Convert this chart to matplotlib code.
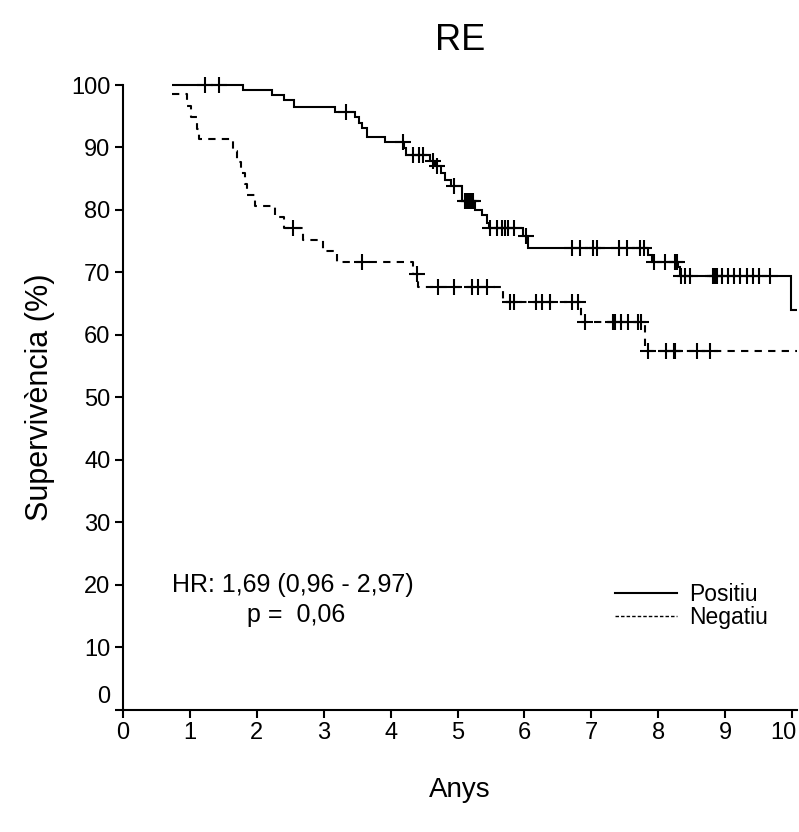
import numpy as np
import matplotlib
matplotlib.use("Agg")
import matplotlib.pyplot as plt
from matplotlib import font_manager

# ---------------- data ----------------
title = "RE"
xlabel = "Anys"
ylabel = "Supervivència (%)"
series_labels = ["Positiu", "Negatiu"]
hr_text = "HR: 1,69 (0,96 - 2,97)"
p_text = "p =  0,06"

pos_times = [0.73, 1.80, 2.22, 2.40, 2.55, 3.17, 3.47, 3.53, 3.57, 3.64, 3.92, 4.20, 4.23,
             4.59, 4.66, 4.76, 4.82, 4.90, 5.06, 5.26, 5.36, 5.44, 5.47, 5.98, 6.06,
             7.85, 7.90, 8.30, 8.33, 9.99]
pos_surv = [100.0, 99.2, 98.4, 97.6, 96.4, 95.7, 94.8, 93.9, 93.1, 91.6, 90.8, 89.9, 88.8,
            87.8, 87.0, 85.9, 84.8, 83.8, 81.5, 80.0, 79.2, 77.9, 77.1, 75.8, 73.9,
            72.8, 71.7, 70.9, 69.5, 64.0]
pos_end = 10.08
pos_censor = [1.23, 1.44, 3.34, 4.19, 4.34, 4.42, 4.49, 4.64, 4.69, 4.94, 5.11, 5.14, 5.17,
              5.20, 5.23, 5.49, 5.59, 5.66, 5.71, 5.76, 5.84, 6.03, 6.71, 6.83, 7.02, 7.08,
              7.41, 7.54, 7.73, 7.79, 7.93, 8.10, 8.25, 8.28, 8.34, 8.40, 8.48, 8.82, 8.85,
              8.88, 8.96, 9.05, 9.13, 9.22, 9.32, 9.42, 9.50, 9.67]

neg_times = [0.73, 0.95, 1.02, 1.10, 1.14, 1.64, 1.70, 1.77, 1.82, 1.86, 1.97, 2.27, 2.40,
             2.69, 2.99, 3.20, 4.34, 4.41, 5.68, 6.84, 7.80]
neg_surv = [98.6, 96.7, 94.8, 93.0, 91.3, 89.5, 87.7, 85.9, 84.1, 82.4, 80.7, 78.9, 77.1,
            75.2, 73.4, 71.6, 69.8, 67.6, 65.3, 62.1, 57.4]
neg_end = 10.08
neg_censor = [2.54, 3.57, 4.39, 4.71, 4.94, 5.21, 5.31, 5.44, 5.78, 5.84, 6.18, 6.26, 6.38,
              6.71, 6.80, 6.90, 7.33, 7.36, 7.45, 7.55, 7.70, 7.74, 7.85, 8.12, 8.23, 8.25,
              8.58, 8.77]

xticks = list(range(0, 11))
yticks = list(range(0, 101, 10))

# ---------------- style ----------------
avail = {f.name for f in font_manager.fontManager.ttflist}
fam = [f for f in ["Liberation Sans Narrow", "Liberation Sans", "DejaVu Sans"] if f in avail]
plt.rcParams["font.family"] = fam

fig = plt.figure(figsize=(7.99, 8.32), dpi=100)
W, H = 799, 832
left, right, top, bottom = 123, 797.4, 85, 709.7
ax = fig.add_axes([left / W, 1 - bottom / H, (right - left) / W, (bottom - top) / H])


def draw_km(times, surv, end, censor, ls):
    t = np.append(times, end)
    s = np.append(surv, surv[-1])
    ax.step(t, s, where="post", color="black", lw=1.5, linestyle=ls, clip_on=False,
            solid_capstyle="butt", solid_joinstyle="miter")
    idx = np.searchsorted(np.asarray(times), np.asarray(censor), side="right") - 1
    cy = np.asarray(surv)[idx]
    ax.plot(censor, cy, linestyle="none", marker="+", markersize=11, mew=1.5,
            color="black", clip_on=False)


draw_km(pos_times, pos_surv, pos_end, pos_censor, "-")
draw_km(neg_times, neg_surv, neg_end, neg_censor, (0, (3.5, 3)))

# legend handles
h1, = ax.plot([], [], color="black", lw=1.5, ls="-")
h2, = ax.plot([], [], color="black", lw=1.0, ls=(0, (2.5, 1.5)))
leg = ax.legend([h1, h2], series_labels, loc="upper left", bbox_to_anchor=(7.35 / 10.08, 0.203),
                frameon=False, fontsize=16.5, handlelength=2.7, handletextpad=0.55,
                labelspacing=0.0, borderpad=0, borderaxespad=0)

ax.text(0.73, 20.0, hr_text, fontsize=18, va="center", ha="left")
ax.text(1.85, 15.2, p_text, fontsize=18, va="center", ha="left")

ax.set_xlim(0, 10.08)
ax.set_ylim(0, 100)
ax.set_xticks(xticks)
ax.set_xticklabels([str(v) for v in xticks[:-1]] + [""])
ax.set_yticks(yticks)
ax.set_yticklabels([""] + [str(v) for v in yticks[1:]])
ax.tick_params(direction="out", length=6, width=1.5, labelsize=17, pad=3)

# the "0" of the y axis sits slightly above the x axis line
ax.annotate(str(yticks[0]), xy=(0, yticks[0]), xycoords=("axes fraction", "data"),
            xytext=(-9, 9), textcoords="offset points", ha="right", va="center", fontsize=17)
# last x label kept inside the figure
ax.annotate(str(xticks[-1]), xy=(xticks[-1], 0), xycoords=("data", "axes fraction"),
            xytext=(3, -9), textcoords="offset points", ha="right", va="top", fontsize=17)

for sp in ["top", "right"]:
    ax.spines[sp].set_visible(False)
for sp in ["left", "bottom"]:
    ax.spines[sp].set_linewidth(1.5)

fig.text(460 / W, 1 - 40 / H, title, fontsize=26, ha="center", va="center")
fig.text(460 / W, 1 - 790 / H, xlabel, fontsize=20, ha="center", va="center")
fig.text(40 / W, 1 - 397 / H, ylabel, fontsize=22, ha="center", va="center", rotation=90)

fig.savefig("out.png", dpi=100)
